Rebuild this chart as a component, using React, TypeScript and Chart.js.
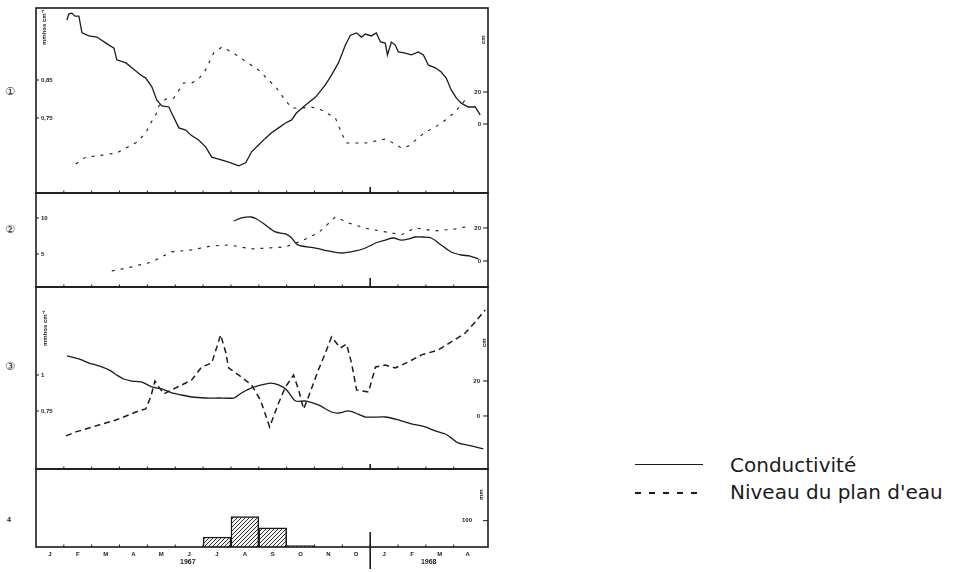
import React, { useEffect, useRef } from "react";
import { Chart, registerables } from "chart.js";

Chart.register(...registerables);

// ---- time axis (months from January 1967) ----
const MONTH_LABELS = ["J", "F", "M", "A", "M", "J", "J", "A", "S", "O", "N", "D", "J", "F", "M", "A"];
const YEAR_LABELS = ["1967", "1968"];
const YEAR_AT = [5.45, 14.1];
const YEAR_BREAK = 12;

// ---- station 1 ----
const cond1Month = [1.11, 1.18, 1.29, 1.4, 1.54, 1.65, 1.9, 2.19, 2.51, 2.8, 2.9, 3.23, 3.44, 3.76, 3.94, 4.16, 4.34, 4.52, 4.77, 4.87, 5.13, 5.38, 5.56, 5.84, 6.09, 6.31, 6.56, 6.92, 7.28, 7.53, 7.74, 7.99, 8.24, 8.46, 8.71, 8.96, 9.18, 9.35, 9.68, 10.04, 10.39, 10.61, 10.86, 11.11, 11.29, 11.51, 11.68, 11.83, 12.04, 12.22, 12.37, 12.54, 12.62, 12.76, 12.9, 13.01, 13.26, 13.48, 13.73, 13.91, 14.09, 14.34, 14.55, 14.73, 14.91, 15.09, 15.27, 15.52, 15.77, 15.95];
const cond1Value = [1.008, 1.024, 1.026, 1.018, 1.018, 0.974, 0.966, 0.963, 0.947, 0.934, 0.903, 0.895, 0.882, 0.863, 0.855, 0.832, 0.797, 0.782, 0.779, 0.763, 0.724, 0.718, 0.705, 0.692, 0.674, 0.647, 0.642, 0.634, 0.624, 0.632, 0.661, 0.679, 0.697, 0.711, 0.724, 0.737, 0.745, 0.763, 0.784, 0.805, 0.837, 0.863, 0.895, 0.942, 0.968, 0.974, 0.963, 0.971, 0.966, 0.974, 0.95, 0.947, 0.916, 0.95, 0.942, 0.924, 0.921, 0.916, 0.924, 0.916, 0.889, 0.882, 0.871, 0.855, 0.824, 0.803, 0.789, 0.779, 0.779, 0.758];
const level1Month = [1.43, 1.79, 2.15, 2.9, 3.62, 3.94, 4.12, 4.3, 4.41, 4.66, 4.95, 5.3, 5.59, 5.84, 6.09, 6.38, 6.67, 7.03, 7.56, 7.99, 8.35, 8.64, 8.89, 9.18, 9.53, 9.89, 10.25, 10.75, 10.97, 11.15, 11.47, 11.83, 12.54, 12.83, 13.12, 13.37, 13.98, 14.34, 14.7, 15.05, 15.41];
const level1Cm = [-25.0, -20.6, -20.0, -18.1, -11.3, -5.6, 0.6, 5.6, 11.3, 15.6, 16.3, 25.6, 25.6, 28.1, 33.8, 44.4, 48.1, 45.0, 38.8, 33.8, 27.5, 22.5, 16.3, 10.0, 10.0, 10.6, 8.8, 3.8, -5.6, -11.9, -11.9, -11.9, -9.4, -11.9, -15.0, -13.8, -5.0, -1.9, 2.5, 7.5, 15.0];

// ---- station 2 ----
const cond2Month = [7.1, 7.38, 7.71, 7.92, 8.24, 8.6, 8.96, 9.18, 9.35, 9.53, 10.04, 10.5, 10.97, 11.47, 11.83, 12.19, 12.54, 12.83, 13.12, 13.37, 13.62, 13.91, 14.19, 14.55, 14.91, 15.27, 15.59, 15.88];
const cond2Value = [9.58, 10.0, 10.14, 9.86, 9.03, 8.06, 7.78, 7.22, 6.39, 6.11, 5.83, 5.42, 5.14, 5.42, 5.83, 6.53, 6.94, 7.22, 6.94, 7.08, 7.36, 7.36, 7.22, 6.25, 5.28, 4.86, 4.72, 4.31];
const level2Month = [2.72, 3.44, 4.16, 4.87, 5.59, 6.31, 6.92, 7.74, 8.96, 9.53, 10.14, 10.75, 11.22, 11.94, 12.76, 13.12, 13.62, 14.34, 15.05, 15.63];
const level2Cm = [-6.1, -3.6, -0.6, 5.5, 6.7, 9.1, 9.7, 7.3, 8.5, 12.1, 17.0, 26.7, 23.0, 19.4, 17.0, 15.8, 20.0, 18.2, 19.4, 21.2];

// ---- station 3 ----
const cond3Month = [1.11, 1.54, 1.9, 2.26, 2.62, 2.9, 3.15, 3.44, 3.8, 4.16, 4.52, 4.87, 5.23, 5.59, 6.09, 6.56, 7.1, 7.38, 7.74, 8.1, 8.42, 8.71, 9.0, 9.32, 9.71, 10.14, 10.61, 10.86, 11.22, 11.47, 11.83, 12.54, 13.01, 13.48, 13.98, 14.34, 14.7, 14.91, 15.16, 15.63, 16.06];
const cond3Value = [1.132, 1.111, 1.083, 1.063, 1.035, 1.0, 0.972, 0.958, 0.951, 0.917, 0.903, 0.875, 0.861, 0.847, 0.84, 0.84, 0.84, 0.875, 0.91, 0.931, 0.944, 0.931, 0.896, 0.819, 0.819, 0.792, 0.743, 0.736, 0.75, 0.736, 0.708, 0.708, 0.688, 0.66, 0.639, 0.611, 0.59, 0.563, 0.528, 0.507, 0.486];
const level3Month = [1.08, 1.43, 1.9, 2.37, 2.87, 3.33, 3.69, 3.94, 4.12, 4.27, 4.41, 4.59, 4.87, 5.23, 5.59, 5.95, 6.31, 6.63, 6.81, 6.92, 7.28, 7.74, 8.06, 8.39, 8.71, 8.96, 9.25, 9.43, 9.61, 9.78, 10.14, 10.39, 10.61, 10.93, 11.15, 11.33, 11.51, 11.94, 12.19, 12.54, 12.9, 13.37, 13.84, 14.44, 14.91, 15.41, 15.77, 16.13];
const level3Cm = [-11.4, -9.1, -6.9, -4.6, -2.3, 0.6, 2.9, 4.0, 10.9, 20.0, 16.6, 12.6, 14.9, 17.7, 20.6, 28.0, 30.3, 46.3, 36.6, 27.4, 23.4, 17.7, 9.1, -6.3, 7.4, 16.6, 23.4, 14.9, 4.0, 10.9, 26.3, 36.0, 45.1, 38.9, 41.1, 30.3, 14.9, 13.7, 28.0, 29.1, 27.4, 30.9, 34.9, 37.7, 42.3, 47.4, 53.7, 60.6];

// ---- monthly rainfall (mm) ----
const rainMm = [0, 0, 0, 0, 0, 0, 38, 115, 73, 5, 0, 0, 0, 0, 0, 0];

// ---- axis tick values ----
const ticks1L = [0.75, 0.85];
const ticks1R = [0, 20];
const ticks2L = [5, 10];
const ticks2R = [0, 20];
const ticks3L = [0.75, 1];
const ticks3R = [0, 20];
const ticks4R = [100];

const INK = "#1b1b1b";
const X_MAX = 16.23;
const PAD = 16;
const TICK_FONT = { family: "Liberation Sans", size: 6, weight: "bold" as const };

const zip = (xs: number[], ys: number[]) => xs.map((x, i) => ({ x, y: ys[i] }));
const fmt = (v: number) => String(v).replace(".", ",");

// frame, month marks, the year break and inward tick marks
const panelDecor = {
  id: "panelDecor",
  afterDatasetsDraw(chart: any, _args: any, opts: any) {
    const { ctx, chartArea: a, scales } = chart;
    const line = (x1: number, y1: number, x2: number, y2: number) => {
      ctx.beginPath();
      ctx.moveTo(x1, y1);
      ctx.lineTo(x2, y2);
      ctx.stroke();
    };
    ctx.save();
    ctx.strokeStyle = INK;
    ctx.lineWidth = 1.6;
    ctx.strokeRect(a.left, a.top, a.right - a.left, a.bottom - a.top);
    const x = scales.x;
    ctx.lineWidth = 1;
    for (let i = 1; i < MONTH_LABELS.length; i++) {
      const px = x.getPixelForValue(i);
      line(px, a.bottom, px, a.bottom - 2.5);
    }
    ctx.lineWidth = 1.6;
    const sx = x.getPixelForValue(YEAR_BREAK);
    line(sx, a.bottom + (opts.sepBelow || 0), sx, a.bottom - (opts.sepAbove || 0));
    ctx.lineWidth = 1;
    ["yL", "yR"].forEach((id) => {
      const s = scales[id];
      if (!s || !s.options.ticks.display) return;
      s.ticks.forEach((t: any) => {
        const py = s.getPixelForValue(t.value);
        if (s.position === "left") line(a.left, py, a.left + 3, py);
        else line(a.right, py, a.right - 5, py);
      });
    });
    ctx.restore();
  },
};

function sideAxis(position: "left" | "right", min: number, max: number, values: number[], pad: number, show = true) {
  return {
    type: "linear" as const,
    position,
    min,
    max,
    display: true,
    grid: { display: false, drawTicks: false },
    border: { display: false },
    afterFit: (s: any) => {
      s.width = 10;
    },
    afterBuildTicks: (s: any) => {
      s.ticks = values.map((v) => ({ value: v }));
    },
    ticks: {
      display: show,
      mirror: true,
      padding: pad,
      color: INK,
      font: TICK_FONT,
      callback: (v: any) => fmt(v),
    },
  };
}

function lineConfig(
  cond: { x: number; y: number }[],
  level: { x: number; y: number }[],
  yL: any,
  yR: any,
  dash: number[],
  dashWidth: number,
  condTension: number,
  sepAbove: number
) {
  return {
    type: "line" as const,
    data: {
      datasets: [
        {
          label: "Conductivité",
          data: cond,
          yAxisID: "yL",
          borderColor: INK,
          borderWidth: 1.3,
          pointRadius: 0,
          tension: condTension,
          fill: false,
        },
        {
          label: "Niveau du plan d'eau",
          data: level,
          yAxisID: "yR",
          borderColor: INK,
          borderWidth: dashWidth,
          borderDash: dash,
          pointRadius: 0,
          tension: 0,
          fill: false,
        },
      ],
    },
    options: {
      responsive: false,
      animation: false as const,
      layout: { padding: { top: PAD, bottom: PAD, left: 0, right: 0 } },
      plugins: { legend: { display: false }, tooltip: { enabled: false }, panelDecor: { sepAbove } },
      scales: {
        x: { type: "linear" as const, min: 0, max: X_MAX, display: false },
        yL,
        yR,
      },
    },
    plugins: [panelDecor],
  };
}

function makeHatch(ctx: CanvasRenderingContext2D) {
  const n = 4;
  const c = document.createElement("canvas");
  c.width = n;
  c.height = n;
  const g = c.getContext("2d")!;
  g.fillStyle = "#f4f4f4";
  g.fillRect(0, 0, n, n);
  g.strokeStyle = "#2e2e2e";
  g.lineWidth = 1;
  g.beginPath();
  g.moveTo(0, n);
  g.lineTo(n, 0);
  g.moveTo(-1, 1);
  g.lineTo(1, -1);
  g.moveTo(n - 1, n + 1);
  g.lineTo(n + 1, n - 1);
  g.stroke();
  return ctx.createPattern(c, "repeat");
}

function rainConfig(ctx: CanvasRenderingContext2D) {
  return {
    type: "bar" as const,
    data: {
      datasets: [
        {
          label: "Pluie",
          data: rainMm.map((v, i) => ({ x: i + 0.5, y: v })),
          xAxisID: "x",
          yAxisID: "yR",
          backgroundColor: makeHatch(ctx),
          borderColor: INK,
          borderWidth: 1.5,
          barPercentage: 1,
          categoryPercentage: 1,
        },
      ],
    },
    options: {
      responsive: false,
      animation: false as const,
      layout: { padding: { top: PAD, bottom: 2, left: 0, right: 0 } },
      plugins: { legend: { display: false }, tooltip: { enabled: false }, panelDecor: { sepAbove: 15, sepBelow: 30 } },
      scales: {
        x: {
          type: "linear" as const,
          min: 0,
          max: X_MAX,
          offset: false,
          grid: { display: false, drawTicks: false },
          border: { display: false },
          afterFit: (s: any) => {
            s.height = 9;
          },
          afterBuildTicks: (s: any) => {
            s.ticks = MONTH_LABELS.map((_m, i) => ({ value: i + 0.5 }));
          },
          ticks: {
            autoSkip: false,
            maxRotation: 0,
            padding: 4,
            color: INK,
            font: TICK_FONT,
            callback: (_v: any, i: number) => MONTH_LABELS[i],
          },
        },
        xYear: {
          type: "linear" as const,
          position: "bottom" as const,
          weight: 1,
          min: 0,
          max: X_MAX,
          offset: false,
          grid: { display: false, drawTicks: false },
          border: { display: false },
          afterFit: (s: any) => {
            s.height = 11;
          },
          afterBuildTicks: (s: any) => {
            s.ticks = YEAR_AT.map((v) => ({ value: v }));
          },
          ticks: {
            autoSkip: false,
            maxRotation: 0,
            padding: 2,
            color: INK,
            font: { family: "Liberation Sans", size: 7, weight: "bold" as const },
            callback: (_v: any, i: number) => YEAR_LABELS[i],
          },
        },
        yL: sideAxis("left", 0, 296, [], 5, false),
        yR: sideAxis("right", 0, 296, ticks4R, -16),
      },
    },
    plugins: [panelDecor],
  };
}

function ChartCanvas({ build, top, height }: { build: (ctx: CanvasRenderingContext2D) => any; top: number; height: number }) {
  const ref = useRef<HTMLCanvasElement>(null);
  useEffect(() => {
    const canvas = ref.current!;
    const chart = new Chart(canvas, build(canvas.getContext("2d")!));
    return () => chart.destroy();
  }, []);
  return (
    <canvas
      ref={ref}
      width={472}
      height={height}
      style={{ position: "absolute", left: 26, top, width: 472, height, display: "block" }}
    />
  );
}

const abs = (extra: React.CSSProperties): React.CSSProperties => ({ position: "absolute", whiteSpace: "nowrap", color: INK, ...extra });
const unitStyle = (left: number, top: number): React.CSSProperties =>
  abs({ left, top, transform: "rotate(-90deg)", transformOrigin: "left top", font: "bold 6px 'Liberation Sans'", lineHeight: "6px" });

export default function App() {
  return (
    <div style={{ position: "fixed", left: 0, top: 0, width: 966, height: 572, background: "#ffffff", overflow: "hidden" }}>
      <ChartCanvas
        top={8 - PAD}
        height={185 + 2 * PAD}
        build={() =>
          lineConfig(
            zip(cond1Month, cond1Value),
            zip(level1Month, level1Cm),
            sideAxis("left", 0.5526, 1.0395, ticks1L, 5),
            sideAxis("right", -43.1, 72.5, ticks1R, -7),
            [3, 6],
            1.1,
            0,
            6
          )
        }
      />
      <ChartCanvas
        top={193 - PAD}
        height={94 + 2 * PAD}
        build={() =>
          lineConfig(
            zip(cond2Month, cond2Value),
            zip(level2Month, level2Cm),
            sideAxis("left", 0.417, 13.47, ticks2L, 5),
            sideAxis("right", -15.8, 41.2, ticks2R, -7),
            [3, 6],
            1.1,
            0.3,
            9
          )
        }
      />
      <ChartCanvas
        top={287 - PAD}
        height={182 + 2 * PAD}
        build={() =>
          lineConfig(
            zip(cond3Month, cond3Value),
            zip(level3Month, level3Cm),
            sideAxis("left", 0.347, 1.611, ticks3L, 5),
            sideAxis("right", -30.3, 73.7, ticks3R, -8),
            [6, 4],
            1.5,
            0.2,
            5
          )
        }
      />
      <ChartCanvas top={469 - PAD} height={78 + PAD + 22} build={(ctx) => rainConfig(ctx)} />

      {/* panel numbers */}
      <span style={abs({ left: 5, top: 85, font: "11px 'DejaVu Sans'" })}>①</span>
      <span style={abs({ left: 5, top: 223, font: "11px 'DejaVu Sans'" })}>②</span>
      <span style={abs({ left: 5, top: 360, font: "11px 'DejaVu Sans'" })}>③</span>
      <span style={abs({ left: 7, top: 516, font: "bold 7px 'Liberation Sans'" })}>4</span>

      {/* axis units */}
      <span style={unitStyle(41, 45)}>mmhos cm⁻¹</span>
      <span style={unitStyle(480, 44)}>cm</span>
      <span style={unitStyle(42, 346)}>mmhos cm⁻¹</span>
      <span style={unitStyle(481, 347)}>cm</span>
      <span style={unitStyle(478, 500)}>mm</span>

      {/* legend */}
      <div style={{ position: "absolute", left: 635, top: 464, width: 68, height: 0, borderTop: `1.5px solid ${INK}` }} />
      <div
        style={{
          position: "absolute",
          left: 635,
          top: 492,
          width: 68,
          height: 1.5,
          background: `repeating-linear-gradient(to right, ${INK} 0 6px, transparent 6px 14px)`,
        }}
      />
      <span style={abs({ left: 730, top: 455, font: "20px 'DejaVu Sans'", lineHeight: "20px" })}>Conductivité</span>
      <span style={abs({ left: 730, top: 482, font: "20px 'DejaVu Sans'", lineHeight: "20px" })}>Niveau du plan d'eau</span>
    </div>
  );
}
